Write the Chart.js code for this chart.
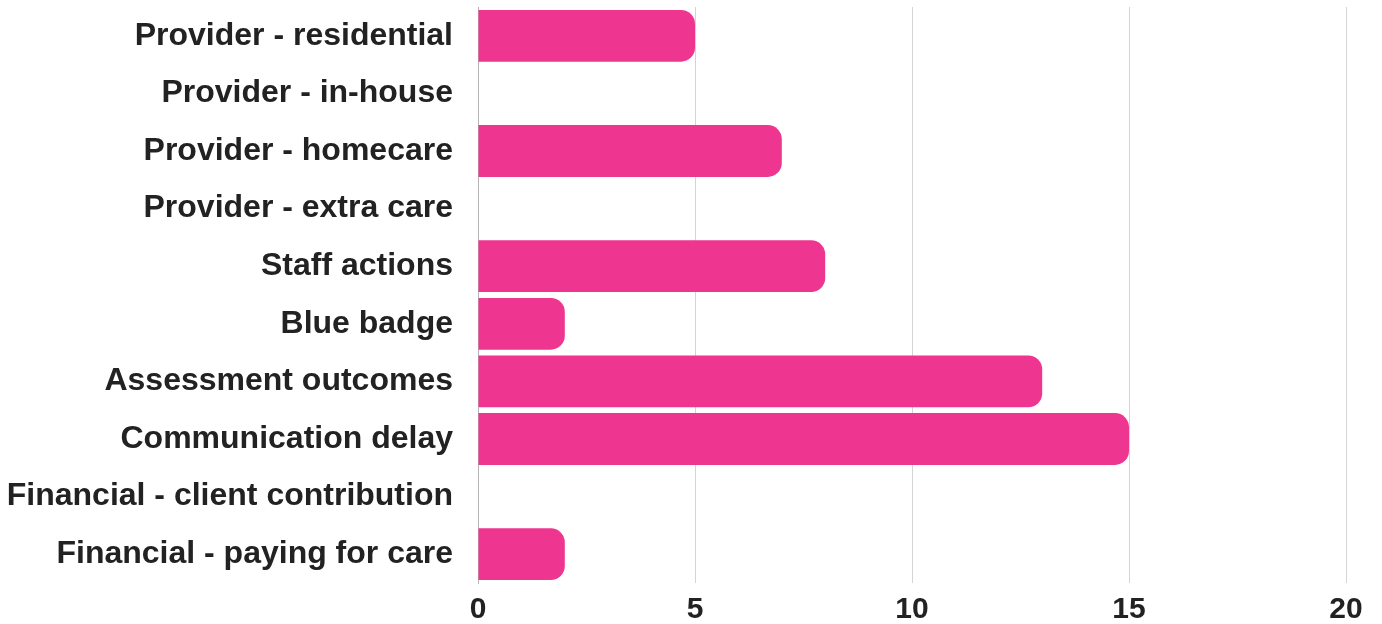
<!DOCTYPE html>
<html>
<head>
<meta charset="utf-8">
<script src="https://cdn.jsdelivr.net/npm/chart.js@4/dist/chart.umd.min.js"></script>
<style>
  html, body { margin: 0; padding: 0; background: #fff; }
  #wrap { width: 1382px; height: 624px; position: relative; }
</style>
</head>
<body>
<div id="wrap"><canvas id="myChart"></canvas></div>
<script>
// categories, top to bottom
const categories = [
  "Provider - residential",
  "Provider - in-house",
  "Provider - homecare",
  "Provider - extra care",
  "Staff actions",
  "Blue badge",
  "Assessment outcomes",
  "Communication delay",
  "Financial - client contribution",
  "Financial - paying for care"
];
// number of cases per category
const counts = [5, 0, 7, 0, 8, 2, 13, 15, 0, 2];
// x axis ticks
const xTicks = [0, 5, 10, 15, 20];

const barColour = "#EE3590";
const textColour = "#222222";
const fontFamily = "'Liberation Sans', Arial, Helvetica, sans-serif";

const ctx = document.getElementById("myChart").getContext("2d");
const myChart = new Chart(ctx, {
  type: "bar",
  data: {
    labels: categories,
    datasets: [
      {
        data: counts,
        backgroundColor: barColour,
        borderRadius: 14,
        borderSkipped: "start",
        categoryPercentage: 1,
        barPercentage: 0.9
      }
    ]
  },
  options: {
    indexAxis: "y",
    responsive: true,
    maintainAspectRatio: false,
    animation: false,
    layout: {
      padding: { top: 7, right: 36, bottom: 0, left: 0 }
    },
    plugins: {
      legend: { display: false },
      tooltip: { enabled: false }
    },
    scales: {
      x: {
        min: xTicks[0],
        max: xTicks[xTicks.length - 1],
        afterBuildTicks: axis => {
          axis.ticks = xTicks.map(v => ({ value: v }));
        },
        afterFit: axis => {
          axis.height = 41;
        },
        grid: {
          color: "#d4d4d4",
          lineWidth: 1,
          drawTicks: false
        },
        border: { display: false },
        ticks: {
          color: textColour,
          padding: 9,
          font: { family: fontFamily, size: 30, weight: "bold" }
        }
      },
      y: {
        afterFit: axis => {
          // keep the axis width fixed and drop the extra label padding at top/bottom
          axis.width = 478;
          axis.paddingTop = 0;
          axis.paddingBottom = 0;
        },
        grid: { display: false, drawTicks: false },
        border: { display: true, color: "#b5b5b5", width: 1 },
        ticks: {
          color: textColour,
          padding: 25,
          font: { family: fontFamily, size: 32, weight: "bold" }
        }
      }
    }
  }
});
</script>
</body>
</html>
